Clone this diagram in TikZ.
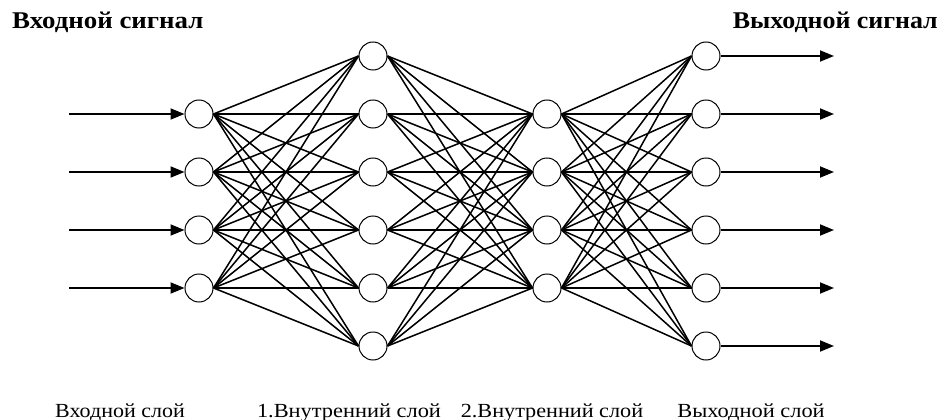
\documentclass[tikz,border=0pt]{standalone}
\usepackage{fontspec}
\setmainfont{Liberation Serif}
\usetikzlibrary{arrows.meta}
\begin{document}
\begin{tikzpicture}[x=1pt,y=-1pt,
  neuron/.style={circle,draw,fill=white,minimum size=28pt,inner sep=0pt,line width=1pt},
  link/.style={line width=1.5pt},
  sig/.style={line width=1.8pt,-{Triangle[length=14pt,width=11pt]}},
  title/.style={font=\fontsize{24}{24}\selectfont\bfseries,inner sep=0pt},
  layerlbl/.style={font=\fontsize{20}{20}\selectfont,inner sep=0pt,anchor=base}]
\useasboundingbox (0,0) rectangle (951,420);
% layers
\foreach \i/\y in {1/114,2/172,3/230,4/288} \node[neuron] (a\i) at (199,\y) {};
\foreach \i/\y in {1/56,2/114,3/172,4/230,5/288,6/346} \node[neuron] (b\i) at (373,\y) {};
\foreach \i/\y in {1/114,2/172,3/230,4/288} \node[neuron] (c\i) at (547,\y) {};
\foreach \i/\y in {1/56,2/114,3/172,4/230,5/288,6/346} \node[neuron] (d\i) at (706,\y) {};
% connections
\foreach \i in {1,...,4} \foreach \j in {1,...,6} \draw[link] (a\i.east) -- (b\j.west);
\foreach \i in {1,...,6} \foreach \j in {1,...,4} \draw[link] (b\i.east) -- (c\j.west);
\foreach \i in {1,...,4} \foreach \j in {1,...,6} \draw[link] (c\i.east) -- (d\j.west);
% input arrows
\foreach \i/\y in {1/114,2/172,3/230,4/288} {
  \coordinate (in\i) at (69,\y);
  \draw[sig] (in\i) -- (a\i.west);
}
% output arrows
\foreach \i/\y in {1/56,2/114,3/172,4/230,5/288,6/346} {
  \coordinate (out\i) at (834,\y);
  \draw[sig] (d\i.east) -- (out\i);
}
% texts
\node[title,anchor=base west] (tin) at (12,29) {\scalebox{1.12}[1]{Входной сигнал}};
\node[title,anchor=base east] (tout) at (938,29) {\scalebox{1.08}[1]{Выходной сигнал}};
\node[layerlbl] (l1) at (120,417) {\scalebox{1.10}[1]{Входной слой}};
\node[layerlbl] (l2) at (349,417) {\scalebox{1.12}[1]{1.Внутренний слой}};
\node[layerlbl] (l3) at (552,417) {\scalebox{1.11}[1]{2.Внутренний слой}};
\node[layerlbl] (l4) at (751,417) {\scalebox{1.12}[1]{Выходной слой}};
\end{tikzpicture}
\end{document}
